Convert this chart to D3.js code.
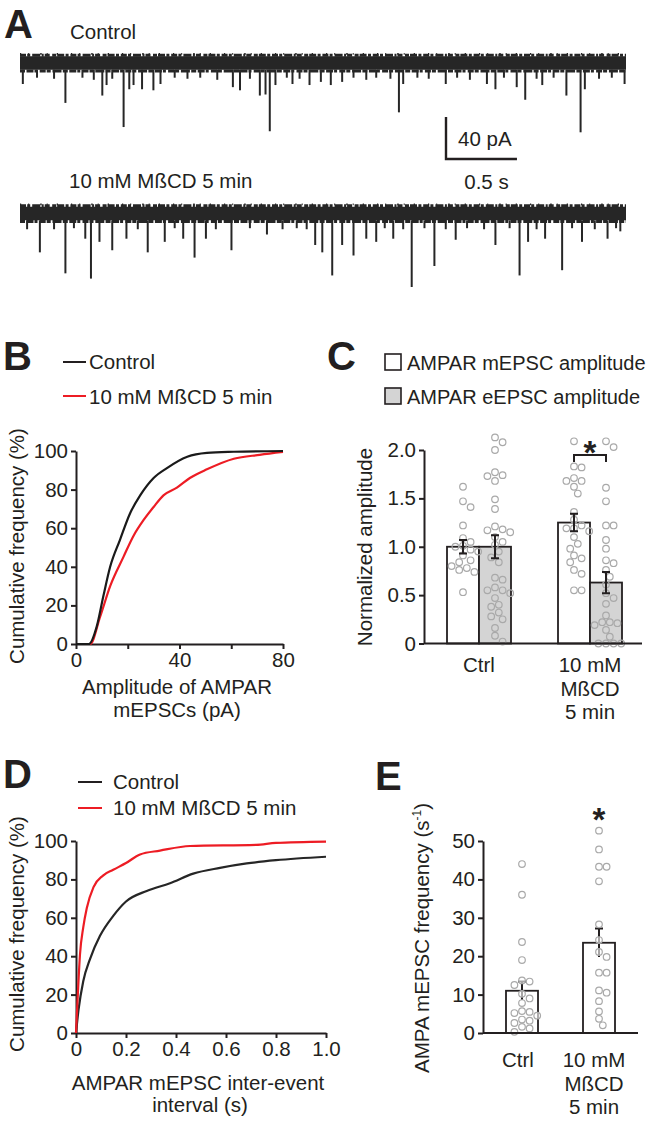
<!DOCTYPE html>
<html><head><meta charset="utf-8">
<script src="https://cdn.jsdelivr.net/npm/d3@7"></script>
<style>
body{margin:0;background:#fff;}
text{font-family:"Liberation Sans",Arial,sans-serif;fill:#231f20;}
</style></head><body>
<script>
// ---------- DATA ----------
// Panel A: traces (event time in s, amplitude in pA)
const traceDuration = 4.27;
const controlEvents = [[0.02,20],[0.32,38],[0.58,31],[0.61,21],[0.73,61],[0.77,25],[0.80,21],[0.86,25],[0.94,26],[0.99,20],[1.50,23],[1.55,26],[1.69,31],[1.73,30],[1.76,65],[1.80,21],[1.92,20],[2.04,21],[2.12,18],[2.19,21],[2.27,18],[2.67,47],[2.70,20],[3.00,20],[3.29,20],[3.35,25],[3.50,23],[3.56,35],[3.68,21],[3.85,31],[3.95,66],[3.98,25],[4.26,20],
 [0.12,14],[0.24,15],[0.44,14],[0.52,16],[0.65,15],[1.09,14],[1.18,15],[1.27,14],[1.39,16],[1.62,15],[1.88,14],[1.97,15],[2.35,14],[2.44,16],[2.51,14],[2.61,15],[2.80,14],[2.88,15],[3.08,14],[3.17,16],[3.41,14],[3.64,15],[3.76,14],[4.08,15],[4.17,14]];
const mbcdEvents = [[0.14,37],[0.32,57],[0.46,24],[0.50,62],[0.56,27],[0.65,35],[0.75,24],[0.90,37],[1.02,27],[1.15,24],[1.23,42],[1.31,24],[1.49,35],[1.74,20],[2.08,30],[2.13,37],[2.20,59],[2.27,30],[2.35,40],[2.44,24],[2.51,27],[2.63,24],[2.76,70],[2.92,50],[3.07,25],[3.35,30],[3.52,59],[3.58,27],[3.70,24],[3.82,54],[3.96,27],[4.14,24],[4.23,17],
 [0.05,15],[0.24,15],[0.38,14],[0.83,15],[1.09,14],[1.38,15],[1.62,14],[1.85,15],[1.95,14],[2.02,15],[2.57,14],[2.70,15],[2.85,14],[3.00,15],[3.15,14],[3.27,15],[3.45,14],[3.64,15],[3.89,14],[4.05,15],[4.20,14]];
const noiseHalfPA = 6.5;
const scaleBarTime = 0.5, scaleBarPA = 40;

// Panel B: cumulative amplitude
const ampControlX = [0,5,8,10.6,13.2,17,21,24.8,30,35,43,50.6,61,80];
const ampControlY = [0,0,9,25,40,54,68,77,86,91,97,99,99.6,100];
const ampMbcdX = [0,5.5,9.3,13.2,18.3,22.2,26,30,33.8,39,44,50.6,61,71,80];
const ampMbcdY = [0,0,14,30,45,56,64,71,77,81,86,90.5,96,98,99.5];
const ampTicksX = [0,20,40,60,80];
const ampTickLabelsX = ["0","","40","","80"];
const cumTicksY = [0,20,40,60,80,100];

// Panel C: normalized amplitude
const cGroups = ["Ctrl","10 mM MßCD 5 min"];
const cGroupLabels = [["Ctrl"],["10 mM","MßCD","5 min"]];
const cSeries = ["AMPAR mEPSC amplitude","AMPAR eEPSC amplitude"];
const mEPSCMean = [1.0, 1.25];
const mEPSCSem = [0.07, 0.09];
const eEPSCMean = [1.0, 0.63];
const eEPSCSem = [0.12, 0.11];
const mEPSCCtrlDots = [1.62,1.47,1.41,1.22,1.09,1.05,1.01,1.00,0.97,0.95,0.91,0.86,0.84,0.80,0.78,0.76,0.74,0.53];
const eEPSCCtrlDots = [2.13,2.08,2.0,1.77,1.74,1.73,1.68,1.49,1.39,1.21,1.18,1.17,1.15,1.10,1.05,1.02,0.95,0.89,0.84,0.68,0.66,0.58,0.55,0.55,0.52,0.47,0.40,0.38,0.32,0.28,0.25,0.16,0.08,0.02];
const mEPSCMbcdDots = [2.09,1.83,1.82,1.71,1.68,1.68,1.62,1.55,1.36,1.28,1.22,1.19,1.19,1.16,1.10,1.03,0.98,0.91,0.88,0.84,0.76,0.72,0.55,0.55];
const eEPSCMbcdDots = [2.09,2.03,1.61,1.47,1.22,1.22,1.07,0.98,0.86,0.83,0.76,0.69,0.61,0.52,0.47,0.41,0.29,0.22,0.22,0.21,0.19,0.14,0.07,0.0,0.0,0.0,0.0];
const cTicksY = [0,0.5,1.0,1.5,2.0];
const cTickLabels = ["0","0.5","1.0","1.5","2.0"];

// Panel D: cumulative inter-event interval
const iviControlX = [0,0.01,0.029,0.056,0.096,0.149,0.2,0.283,0.376,0.469,0.576,0.683,0.8,1.0];
const iviControlY = [0,12,27,38.5,50.6,61,68.5,74,78,83,86,88.3,90,91.8];
const iviMbcdX = [0,0.008,0.016,0.029,0.043,0.07,0.108,0.149,0.2,0.256,0.336,0.456,0.72,0.8,1.0];
const iviMbcdY = [0,22,41,55,65,76,82,85,88.5,93,95,97.4,98,99,99.7];
const iviTicksX = [0,0.2,0.4,0.6,0.8,1.0];
const iviTickLabels = ["0","0.2","0.4","0.6","0.8","1.0"];

// Panel E: frequency
const eGroups = ["Ctrl","10 mM MßCD 5 min"];
const freqMean = [11, 23.5];
const freqSem = [2.4, 3.7];
const freqCtrlDots = [44,36,23.7,19,13.7,13.4,12.5,10.2,9,7.8,5.7,5.5,5.2,4.5,3.5,3.2,2.6,1.6,1.2,0.3];
const freqMbcdDots = [52.7,47.8,43.3,43.3,39.5,28.3,24.2,21.1,19.8,15.7,15.7,11.1,10.5,8.3,5.6,3.7,2.0];
const freqTicksY = [0,10,20,30,40,50];

// ---------- DRAWING ----------
const W = 652, H = 1122;
const FS = 20.5;
const INK = "#231f20", RED = "#ed1c24", DOT = "#a9a9a9", GRAYBAR = "#d4d4d4", TRACE = "#262626";
const svg = d3.select("body").append("svg").attr("width", W).attr("height", H);

function panelLetter(t, x, y) {
  svg.append("text").attr("x", x).attr("y", y).attr("font-size", 40).attr("font-weight", "bold").text(t);
}
function styleAxis(g) {
  g.selectAll(".domain").attr("stroke", INK).attr("stroke-width", 2);
  g.selectAll(".tick line").attr("stroke", INK).attr("stroke-width", 2);
  g.selectAll(".tick text").attr("font-size", FS).attr("fill", INK)
    .style("font-family", '"Liberation Sans",Arial,sans-serif');
}

// ===== Panel A =====
panelLetter("A", 4, 38);
const tX = d3.scaleLinear().domain([0, traceDuration]).range([20, 626]);
function drawTrace(events, baseY) {
  const y = d3.scaleLinear().domain([0, scaleBarPA]).range([baseY, baseY + 42]);
  const area = d3.area().x(d => tX(d)).y0(y(-noiseHalfPA)).y1(y(noiseHalfPA));
  svg.append("path").datum([0, traceDuration]).attr("d", area).attr("fill", TRACE);
  // rough noise edges (irregular dash pattern gives a jagged envelope)
  const edge = d3.line().x(d => tX(d[0])).y(d => y(d[1]));
  svg.append("path").datum([[0, -noiseHalfPA - 1], [traceDuration, -noiseHalfPA - 1]]).attr("d", edge)
    .attr("stroke", TRACE).attr("stroke-width", 3).attr("stroke-dasharray", "6 1.2 3 2 8 1.5 2 1 5 2.5 4 1 7 1.4 3 1.8")
    .attr("fill", "none");
  svg.append("path").datum([[0, -noiseHalfPA - 2.2], [traceDuration, -noiseHalfPA - 2.2]]).attr("d", edge)
    .attr("stroke", TRACE).attr("stroke-width", 1.6).attr("stroke-dasharray", "1.2 7 1 11 1.5 5 1 9 1.3 13")
    .attr("fill", "none");
  svg.append("path").datum([[0, noiseHalfPA + 1], [traceDuration, noiseHalfPA + 1]]).attr("d", edge)
    .attr("stroke", TRACE).attr("stroke-width", 3).attr("stroke-dasharray", "5 1.5 7 1 3 2.2 6 1 4 1.8 9 1.3")
    .attr("fill", "none");
  svg.append("g").selectAll("line").data(events).join("line")
    .attr("x1", d => tX(d[0])).attr("x2", d => tX(d[0]))
    .attr("y1", y(noiseHalfPA)).attr("y2", d => y(d[1]))
    .attr("stroke", TRACE).attr("stroke-width", 2);
}
svg.append("text").attr("x", 70).attr("y", 39).attr("font-size", FS).text("Control");
drawTrace(controlEvents, 63);
svg.append("text").attr("x", 69).attr("y", 188).attr("font-size", FS).text("10 mM MßCD 5 min");
drawTrace(mbcdEvents, 213.5);
// scale bar
{
  const x0 = 446, yB = 159;
  const len = tX(scaleBarTime) - tX(0);
  svg.append("path").attr("d", `M${x0},${yB - 42}V${yB}H${x0 + len}`)
    .attr("fill", "none").attr("stroke", INK).attr("stroke-width", 2.4);
  svg.append("text").attr("x", 458).attr("y", 146).attr("font-size", FS).text(scaleBarPA + " pA");
  svg.append("text").attr("x", x0 + len / 2 + 5).attr("y", 189).attr("font-size", FS).attr("text-anchor", "middle").text(scaleBarTime + " s");
}

// ===== Panel B =====
panelLetter("B", 3, 370);
{
  const x = d3.scaleLinear().domain([0, 80]).range([76, 283]);
  const y = d3.scaleLinear().domain([0, 100]).range([644, 451]);
  svg.append("line").attr("x1", 63).attr("x2", 86).attr("y1", 362).attr("y2", 362).attr("stroke", INK).attr("stroke-width", 2);
  svg.append("text").attr("x", 89).attr("y", 369).attr("font-size", FS).text("Control");
  svg.append("line").attr("x1", 63).attr("x2", 86).attr("y1", 396).attr("y2", 396).attr("stroke", RED).attr("stroke-width", 2);
  svg.append("text").attr("x", 89).attr("y", 404).attr("font-size", FS).text("10 mM MßCD 5 min");

  const line = d3.line().x(d => x(d[0])).y(d => y(d[1])).curve(d3.curveMonotoneX);
  const gx = svg.append("g").attr("transform", "translate(0,644)")
    .call(d3.axisBottom(x).tickValues(ampTicksX).tickFormat((d, i) => ampTickLabelsX[i]).tickSize(5).tickSizeOuter(0).tickPadding(3));
  styleAxis(gx);
  const gy = svg.append("g").attr("transform", "translate(76,0)")
    .call(d3.axisLeft(y).tickValues(cumTicksY).tickSize(5).tickSizeOuter(0).tickPadding(3));
  styleAxis(gy);
  svg.append("path").datum(ampMbcdX.map((v, i) => [v, ampMbcdY[i]])).attr("d", line)
    .attr("fill", "none").attr("stroke", RED).attr("stroke-width", 2.2);
  svg.append("path").datum(ampControlX.map((v, i) => [v, ampControlY[i]])).attr("d", line)
    .attr("fill", "none").attr("stroke", "#1a1a1a").attr("stroke-width", 2.2);
  svg.append("text").attr("transform", "translate(24,546) rotate(-90)").attr("text-anchor", "middle")
    .attr("font-size", FS).text("Cumulative frequency (%)");
  svg.append("text").attr("x", 177).attr("y", 694).attr("text-anchor", "middle").attr("font-size", FS).text("Amplitude of AMPAR");
  svg.append("text").attr("x", 177).attr("y", 717).attr("text-anchor", "middle").attr("font-size", FS).text("mEPSCs (pA)");
}

// beeswarm helper (deterministic layout)
function swarm(values, cx, y, r, step) {
  const placed = [];
  const sorted = values.slice().sort((a, b) => b - a);
  sorted.forEach(v => {
    const py = y(v);
    const offs = [0, 1, -1, 2, -2, 3, -3, 4, -4];
    for (const k of offs) {
      const px = cx + k * step;
      if (placed.every(p => Math.hypot(p[0] - px, p[1] - py) >= 2 * r + 0.4)) { placed.push([px, py]); return; }
    }
    placed.push([cx, py]);
  });
  return placed;
}

// ===== Panel C =====
panelLetter("C", 327, 370);
{
  const y = d3.scaleLinear().domain([0, 2]).range([643.5, 450]);
  const gx = d3.scalePoint().domain(cGroups).range([479, 590]);
  const sub = d3.scaleBand().domain(cSeries).range([-32, 32]);
  svg.append("rect").attr("x", 385).attr("y", 354).attr("width", 16).attr("height", 16).attr("fill", "#fff").attr("stroke", INK).attr("stroke-width", 1.6);
  svg.append("text").attr("x", 407).attr("y", 370).attr("font-size", 20).text(cSeries[0]);
  svg.append("rect").attr("x", 385).attr("y", 388).attr("width", 16).attr("height", 16).attr("fill", GRAYBAR).attr("stroke", INK).attr("stroke-width", 1.6);
  svg.append("text").attr("x", 407).attr("y", 404).attr("font-size", 20).text(cSeries[1]);

  const series = [
    {name: cSeries[0], mean: mEPSCMean, sem: mEPSCSem, dots: [mEPSCCtrlDots, mEPSCMbcdDots], fill: "#fff"},
    {name: cSeries[1], mean: eEPSCMean, sem: eEPSCSem, dots: [eEPSCCtrlDots, eEPSCMbcdDots], fill: GRAYBAR}
  ];
  series.forEach(s => {
    cGroups.forEach((g, i) => {
      const x0 = gx(g) + sub(s.name);
      svg.append("rect").attr("x", x0).attr("y", y(s.mean[i])).attr("width", sub.bandwidth())
        .attr("height", y(0) - y(s.mean[i])).attr("fill", s.fill).attr("stroke", INK).attr("stroke-width", 1.8);
    });
  });
  series.forEach(s => {
    cGroups.forEach((g, i) => {
      const cx = gx(g) + sub(s.name) + sub.bandwidth() / 2;
      const pts = swarm(s.dots[i], cx, y, 3.3, 3.8);
      svg.append("g").selectAll("circle").data(pts).join("circle")
        .attr("cx", d => d[0]).attr("cy", d => d[1]).attr("r", 3.3)
        .attr("fill", "none").attr("stroke", DOT).attr("stroke-width", 1.2);
    });
  });
  series.forEach(s => {
    cGroups.forEach((g, i) => {
      const cx = gx(g) + sub(s.name) + sub.bandwidth() / 2;
      const hi = y(s.mean[i] + s.sem[i]), lo = y(s.mean[i] - s.sem[i]);
      svg.append("path").attr("d", `M${cx - 4},${hi}H${cx + 4}M${cx},${hi}V${lo}M${cx - 4},${lo}H${cx + 4}`)
        .attr("stroke", INK).attr("stroke-width", 2).attr("fill", "none");
    });
  });
  svg.append("line").attr("x1", 424).attr("x2", 642).attr("y1", y(0)).attr("y2", y(0)).attr("stroke", INK).attr("stroke-width", 2);
  const gy = svg.append("g").attr("transform", "translate(424,0)")
    .call(d3.axisLeft(y).tickValues(cTicksY).tickFormat((d, i) => cTickLabels[i]).tickSize(5).tickSizeOuter(0).tickPadding(3));
  styleAxis(gy);
  cGroups.forEach((g, i) => {
    const t = svg.append("text").attr("x", gx(g)).attr("y", 672).attr("text-anchor", "middle").attr("font-size", FS);
    cGroupLabels[i].forEach((l, j) => t.append("tspan").attr("x", gx(g)).attr("dy", j ? 23.5 : 0).text(l));
  });
  svg.append("text").attr("transform", "translate(372,547) rotate(-90)").attr("text-anchor", "middle")
    .attr("font-size", FS).text("Normalized amplitude");
  const a = gx(cGroups[1]) + sub(cSeries[0]) + sub.bandwidth() / 2;
  const b = gx(cGroups[1]) + sub(cSeries[1]) + sub.bandwidth() / 2;
  svg.append("path").attr("d", `M${a},462V455H${b}V462`).attr("fill", "none").attr("stroke", INK).attr("stroke-width", 2);
  svg.append("text").attr("x", (a + b) / 2).attr("y", 464).attr("text-anchor", "middle").attr("font-size", 33).attr("font-weight", "bold").text("*");
}

// ===== Panel D =====
panelLetter("D", 3, 788);
{
  const x = d3.scaleLinear().domain([0, 1]).range([76, 326]);
  const y = d3.scaleLinear().domain([0, 100]).range([1033, 841]);
  svg.append("line").attr("x1", 78).attr("x2", 102).attr("y1", 782).attr("y2", 782).attr("stroke", INK).attr("stroke-width", 2);
  svg.append("text").attr("x", 113).attr("y", 789).attr("font-size", FS).text("Control");
  svg.append("line").attr("x1", 78).attr("x2", 102).attr("y1", 808).attr("y2", 808).attr("stroke", RED).attr("stroke-width", 2);
  svg.append("text").attr("x", 113).attr("y", 815).attr("font-size", FS).text("10 mM MßCD 5 min");
  const gx = svg.append("g").attr("transform", "translate(0,1033)")
    .call(d3.axisBottom(x).tickValues(iviTicksX).tickFormat((d, i) => iviTickLabels[i]).tickSize(5).tickSizeOuter(0).tickPadding(3));
  styleAxis(gx);
  const gy = svg.append("g").attr("transform", "translate(76,0)")
    .call(d3.axisLeft(y).tickValues(cumTicksY).tickSize(5).tickSizeOuter(0).tickPadding(3));
  styleAxis(gy);
  const line = d3.line().x(d => x(d[0])).y(d => y(d[1])).curve(d3.curveMonotoneX);
  svg.append("path").datum(iviControlX.map((v, i) => [v, iviControlY[i]])).attr("d", line)
    .attr("fill", "none").attr("stroke", "#262626").attr("stroke-width", 2.2);
  svg.append("path").datum(iviMbcdX.map((v, i) => [v, iviMbcdY[i]])).attr("d", line)
    .attr("fill", "none").attr("stroke", RED).attr("stroke-width", 2.2);
  svg.append("text").attr("transform", "translate(24,934) rotate(-90)").attr("text-anchor", "middle")
    .attr("font-size", FS).text("Cumulative frequency (%)");
  svg.append("text").attr("x", 198).attr("y", 1090).attr("text-anchor", "middle").attr("font-size", FS).text("AMPAR mEPSC inter-event");
  svg.append("text").attr("x", 200).attr("y", 1112).attr("text-anchor", "middle").attr("font-size", FS).text("interval (s)");
}

// ===== Panel E =====
panelLetter("E", 375, 790);
{
  const y = d3.scaleLinear().domain([0, 50]).range([1033, 841]);
  const gx = d3.scalePoint().domain(eGroups).range([522, 599]);
  const bw = 32;
  eGroups.forEach((g, i) => {
    svg.append("rect").attr("x", gx(g) - bw / 2).attr("y", y(freqMean[i])).attr("width", bw)
      .attr("height", y(0) - y(freqMean[i])).attr("fill", "#fff").attr("stroke", INK).attr("stroke-width", 1.8);
    const hi = y(freqMean[i] + freqSem[i]), lo = y(freqMean[i] - freqSem[i]);
    svg.append("path").attr("d", `M${gx(g) - 4},${hi}H${gx(g) + 4}M${gx(g)},${hi}V${lo}`)
      .attr("stroke", INK).attr("stroke-width", 2).attr("fill", "none");
  });
  [freqCtrlDots, freqMbcdDots].forEach((dots, i) => {
    const pts = swarm(dots, gx(eGroups[i]), y, 3.3, 3.8);
    svg.append("g").selectAll("circle").data(pts).join("circle")
      .attr("cx", d => d[0]).attr("cy", d => d[1]).attr("r", 3.3)
      .attr("fill", "#fff").attr("fill-opacity", 0.6).attr("stroke", DOT).attr("stroke-width", 1.2);
  });
  svg.append("line").attr("x1", 483).attr("x2", 638).attr("y1", y(0)).attr("y2", y(0)).attr("stroke", INK).attr("stroke-width", 2);
  const gy = svg.append("g").attr("transform", "translate(483,0)")
    .call(d3.axisLeft(y).tickValues(freqTicksY).tickSize(5).tickSizeOuter(0).tickPadding(3));
  styleAxis(gy);
  const labs = [["Ctrl"], ["10 mM", "MßCD", "5 min"]];
  eGroups.forEach((g, i) => {
    const t = svg.append("text").attr("y", 1067).attr("text-anchor", "middle").attr("font-size", FS);
    labs[i].forEach((l, j) => t.append("tspan").attr("x", gx(g) + (i ? -5 : -4)).attr("dy", j ? 23.5 : 0).text(l));
  });
  const yl = svg.append("text").attr("transform", "translate(429,938) rotate(-90)").attr("text-anchor", "middle").attr("font-size", FS);
  yl.append("tspan").text("AMPA mEPSC frequency (s");
  yl.append("tspan").attr("font-size", 12).attr("dy", -8).text("-1");
  yl.append("tspan").attr("dy", 8).text(")");
  svg.append("text").attr("x", gx(eGroups[1])).attr("y", 831).attr("text-anchor", "middle").attr("font-size", 33).attr("font-weight", "bold").text("*");
}
</script>
</body></html>
